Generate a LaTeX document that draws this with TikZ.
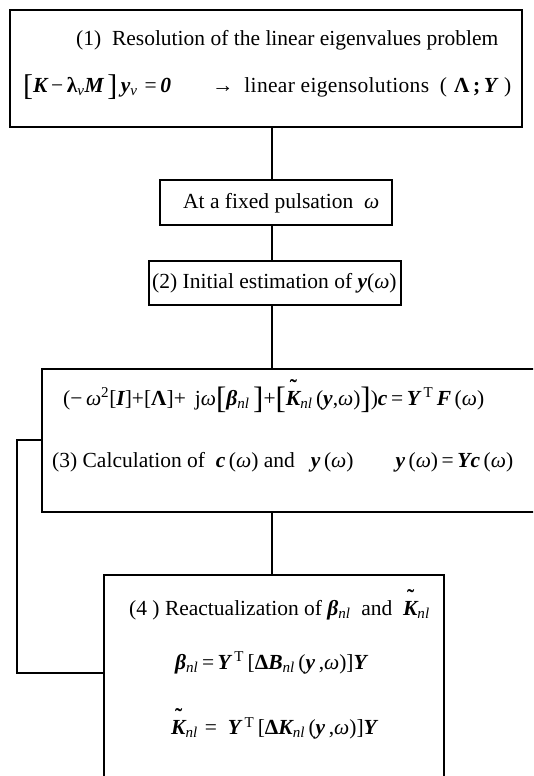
\documentclass[tikz,border=0pt]{standalone}
\usepackage{fontspec}
\setmainfont{Liberation Serif}
\newcommand\bi[1]{{\bfseries\itshape #1}}
\newcommand\bu[1]{{\bfseries #1}}
\newcommand\sbs[1]{\textsubscript{\itshape #1}}
\newcommand\sps[1]{\textsuperscript{#1}}
\newcommand\Kt{\makebox[0pt][l]{\hspace{0.18em}\raisebox{0.5em}{\bfseries ˜}}\bi{K}}
\newcommand\myLB[1][30]{\raisebox{-0.14em}{\fontsize{#1}{#1}\selectfont [}}
\newcommand\myRB[1][30]{\raisebox{-0.14em}{\fontsize{#1}{#1}\selectfont ]}}
\tikzset{
  box/.style={draw, line width=1.2pt, inner sep=0pt, outer sep=0pt},
  txt/.style={anchor=west, inner sep=0pt, font=\fontsize{21.5}{25}\selectfont},
  link/.style={line width=1.2pt}
}
\begin{document}
\begin{tikzpicture}[x=1pt,y=-1pt]
\useasboundingbox (0,0) rectangle (533,776);
\clip (0,0) rectangle (533,776);
\fill[white] (0,0) rectangle (533,776);
% boxes
\node[box, minimum width=512pt, minimum height=117pt] (b1) at (266,68.5) {};
\node[box, minimum width=232pt, minimum height=45pt] (b2) at (276,202.5) {};
\node[box, minimum width=252pt, minimum height=44pt] (b3) at (275,283) {};
\node[box, minimum width=518pt, minimum height=143pt] (b4) at (301,440.5) {};
\node[box, minimum width=340pt, minimum height=225pt] (b5) at (274,687.5) {};
% texts
\node[txt] (t1a) at (76,40) {(1)\ \ Resolution of the linear eigenvalues problem};
\node[txt] (t1b) at (23,87) {\myLB\bi{K}\,−\,\bu{λ}\sbs{v}\bi{M}\,\myRB\,\bi{y}\sbs{v}\,\,=\,\bi{0}};
\node[txt] (t1c) at (212,87) {→\ \ {\addfontfeature{LetterSpace=1.5}linear eigensolutions}\ \ (\,\,\bu{Λ}\,\bu{;}\,\bi{Y}\,\,)};
\node[txt] (t2) at (183,203) {At a fixed pulsation\ \ \textit{ω}};
\node[txt] (t3) at (152,283) {(2) Initial estimation of \bi{y}(\textit{ω})};
\node[txt] (t4a) at (63,396) {(−\,\textit{ω}\sps{2}[\bi{I}]+[\bu{Λ}]+\, j\textit{ω}\myLB[31]\bi{β}\sbs{nl}\,\myRB[31]+\myLB[31]\Kt\sbs{nl}\,(\bi{y},\textit{ω})\myRB[31])\bi{c}\,=\,\bi{Y}\,\sps{T}\,\bi{F}\,(\textit{ω})};
\node[txt] (t4b) at (52,462) {(3) Calculation of\ \ \bi{c}\,(\textit{ω}) and\ \ \ \bi{y}\,(\textit{ω})\hspace{1.95em}\bi{y}\,(\textit{ω})\,=\,\bi{Yc}\,(\textit{ω})};
\node[txt] (t5a) at (129,605) {(4\ ) Reactualization of \bi{β}\sbs{nl}\ \ and\ \ \Kt\sbs{nl}};
\node[txt] (t5b) at (175,663) {\bi{β}\sbs{nl}\,=\,\bi{Y}\,\sps{T}\,[\bu{Δ}\bi{B}\sbs{nl}\,(\bi{y}\,,\textit{ω})]\bi{Y}};
\node[txt] (t5c) at (171,724) {\Kt\sbs{nl}\,\,=\ \ \bi{Y}\,\sps{T}\,[\bu{Δ}\bi{K}\sbs{nl}\,(\bi{y}\,,\textit{ω})]\bi{Y}};
% connectors
\coordinate (lx) at (272,0);
\coordinate (fb1) at (17,673);
\coordinate (fb2) at (17,440);
\draw[link] (b1.south -| lx) -- (b2.north -| lx);
\draw[link] (b2.south -| lx) -- (b3.north -| lx);
\draw[link] (b3.south -| lx) -- (b4.north -| lx);
\draw[link] (b4.south -| lx) -- (b5.north -| lx);
\draw[link] (b5.west |- fb1) -- (fb1) -- (fb2) -- (b4.west |- fb2);
\end{tikzpicture}
\end{document}
